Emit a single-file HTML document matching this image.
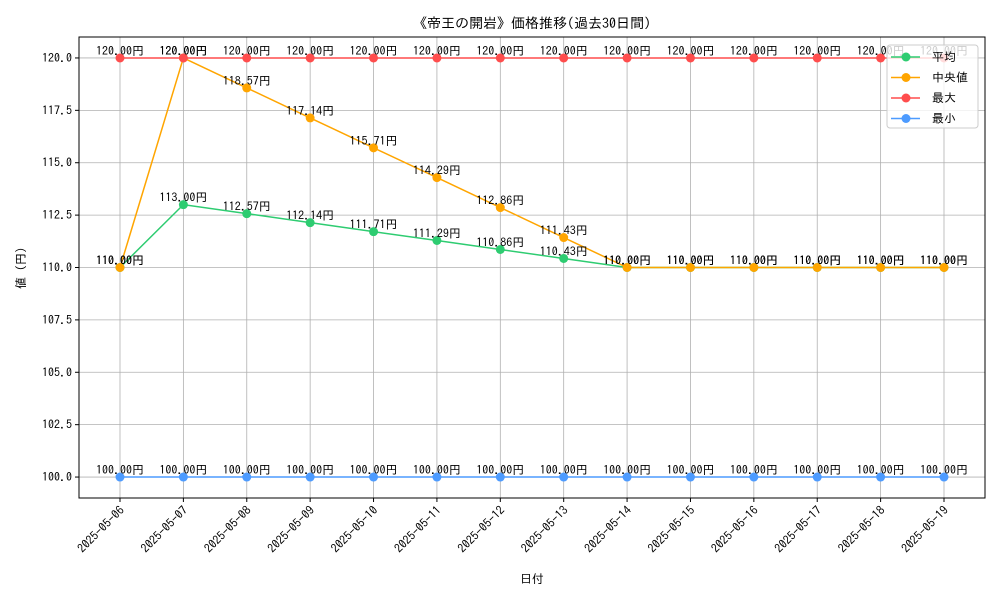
<!DOCTYPE html>
<html><head><meta charset="utf-8"><style>
body{margin:0;background:#fff}
svg{font-family:"IPAGothic","Noto Sans CJK JP",sans-serif}
</style></head><body>
<svg id="chart" width="1000" height="600">
<rect width="1000" height="600" fill="#fff"/>
<text x="532" y="28" font-size="14" text-anchor="middle">《帝王の開岩》価格推移(過去30日間)</text>
<g id="grid"></g><g id="axes"></g><g id="series"></g><g id="labels"></g>
<text x="532" y="583" font-size="12" text-anchor="middle">日付</text>
<text transform="translate(25,268) rotate(-90)" font-size="12" text-anchor="middle">値 (円)</text>
<g id="legend"></g>
</svg>
<script>
const categories=["2025-05-06","2025-05-07","2025-05-08","2025-05-09","2025-05-10","2025-05-11","2025-05-12","2025-05-13","2025-05-14","2025-05-15","2025-05-16","2025-05-17","2025-05-18","2025-05-19"];
const avgValues=[110,113,112.57,112.14,111.71,111.29,110.86,110.43,110,110,110,110,110,110];
const medianValues=[110,120,118.57,117.14,115.71,114.29,112.86,111.43,110,110,110,110,110,110];
const maxValues=[120,120,120,120,120,120,120,120,120,120,120,120,120,120];
const minValues=[100,100,100,100,100,100,100,100,100,100,100,100,100,100];
const yTicks=[100,102.5,105,107.5,110,112.5,115,117.5,120];
const seriesNames=["平均","中央値","最大","最小"];
const seriesColors=["#2ecc71","#ffa500","#ff4d4d","#4d9bff"];

const NS="http://www.w3.org/2000/svg";
const L=79,R=985,T=37,B=498,yMin=99,yMax=121;
const xs=i=>120+i*(944-120)/(categories.length-1);
const ys=v=>B-(v-yMin)/(yMax-yMin)*(B-T);
function mk(tag,attrs,parent){const e=document.createElementNS(NS,tag);for(const k in attrs)e.setAttribute(k,attrs[k]);parent.appendChild(e);return e;}
const grid=document.getElementById('grid'),axes=document.getElementById('axes'),ser=document.getElementById('series'),lab=document.getElementById('labels'),leg=document.getElementById('legend');
categories.forEach((c,i)=>{
  const g=mk('line',{x1:xs(i),x2:xs(i),y1:T,y2:B,stroke:'#b0b0b0','stroke-width':0.8},grid);
  
  
  mk('line',{x1:xs(i),x2:xs(i),y1:B,y2:B+4,stroke:'#000'},axes);
  const t=mk('text',{x:0,y:0,'font-size':12,'text-anchor':'end',transform:`translate(${xs(i)+5},${B+13}) rotate(-45)`},axes);
  t.textContent=c;
  
  
});
yTicks.forEach(v=>{
  const g=mk('line',{x1:L,x2:R,y1:ys(v),y2:ys(v),stroke:'#b0b0b0','stroke-width':0.8},grid);
  
  
  mk('line',{x1:L-4,x2:L,y1:ys(v),y2:ys(v),stroke:'#000'},axes);
  const t=mk('text',{x:L-7,y:ys(v)+4,'font-size':12,'text-anchor':'end'},axes);
  t.textContent=v.toFixed(1);
  
  
});
const frame=mk('rect',{x:L,y:T,width:R-L,height:B-T,fill:'none',stroke:'#000','stroke-width':1},axes);


const allSeries=[avgValues,medianValues,maxValues,minValues];
allSeries.forEach((vals,s)=>{
  const p=mk('polyline',{points:vals.map((v,i)=>xs(i)+','+ys(v)).join(' '),fill:'none',stroke:seriesColors[s],'stroke-width':1.5},ser);
  
  
  vals.forEach((v,i)=>{
    const c=mk('circle',{cx:xs(i),cy:ys(v),r:4.5,fill:seriesColors[s]},ser);
    
    
    const t=mk('text',{x:xs(i),y:ys(v)-3,'font-size':12,'text-anchor':'middle'},lab);
    t.textContent=v.toFixed(2)+'円';
    
    
  });
});
mk('rect',{x:887,y:45,width:91,height:83,rx:3,fill:'#fff','fill-opacity':0.8,stroke:'#ccc'},leg);
seriesNames.forEach((n,s)=>{
  const y=57+s*20.5;
  const g=mk('g',{},leg);
  
  
  mk('line',{x1:891,x2:920,y1:y,y2:y,stroke:seriesColors[s],'stroke-width':1.5},g);
  mk('circle',{cx:906,cy:y,r:4.5,fill:seriesColors[s]},g);
  const t=mk('text',{x:932,y:y+4,'font-size':12},g);
  t.textContent=n;
});
</script>
</body></html>
